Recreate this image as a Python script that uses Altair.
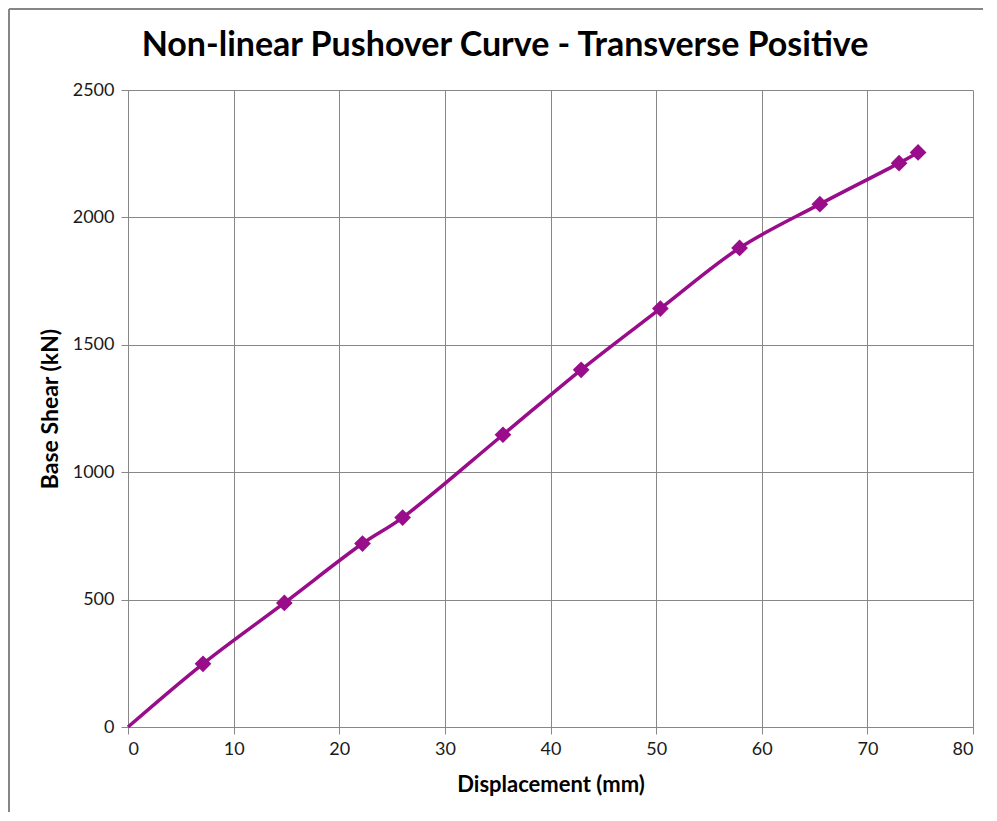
import altair as alt
import pandas as pd

disp = [0, 7.1, 14.8, 22.2, 26.0, 35.5, 42.9, 50.4, 57.9, 65.5, 73.0, 74.8]
shear = [0, 248, 487, 720, 822, 1147, 1402, 1642, 1880, 2052, 2213, 2255]
has_marker = [False] + [True] * (len(disp) - 1)
title_text = ["Non-linear Pushover Curve - Transverse Positive"]

df = pd.DataFrame({"disp": disp, "shear": shear, "marker": has_marker})
tdf = pd.DataFrame({"t": title_text})

PURPLE = "#990d8a"
FONT = "Lato"

x = alt.X("disp:Q", title="Displacement (mm)",
          scale=alt.Scale(domain=[0, 80], nice=False),
          axis=alt.Axis(values=list(range(0, 81, 10)), format="d", labelFontSize=18, titleFontSize=22,
                        titleFontWeight="bold", labelPadding=6, titlePadding=16))
y = alt.Y("shear:Q", title="Base Shear (kN)",
          scale=alt.Scale(domain=[0, 2500], nice=False),
          axis=alt.Axis(values=list(range(0, 2501, 500)), format="d", labelFontSize=18, titleFontSize=23,
                        titleFontWeight="bold", labelPadding=7, titlePadding=10))

line = alt.Chart(df).mark_line(color=PURPLE, strokeWidth=3.5, interpolate="catmull-rom").encode(x=x, y=y)
pts = alt.Chart(df).transform_filter("datum.marker").mark_point(
    shape="diamond", filled=True, size=280, color=PURPLE, opacity=1).encode(x=x, y=y)

border_left = alt.Chart(df).mark_rule(color="#868686", strokeWidth=2).encode(
    x=alt.value(-119), y=alt.value(-81), y2=alt.value(740))
border_top = alt.Chart(df).mark_rule(color="#868686", strokeWidth=2).encode(
    x=alt.value(-119), x2=alt.value(880), y=alt.value(-81))

title = alt.Chart(tdf).mark_text(
    font=FONT, fontSize=34, fontWeight="bold", color="#000000",
    align="center", baseline="alphabetic").encode(
    x=alt.value(377), y=alt.value(-34), text="t:N")

chart = alt.layer(border_left, border_top, line, pts, title).properties(
    width=845, height=637,
    autosize=alt.AutoSizeParams(type="none"),
    padding={"left": 120, "top": 82, "right": 10, "bottom": 85},
).configure_axis(
    labelFont=FONT, titleFont=FONT, labelColor="#1a1a1a", titleColor="#000000",
    gridColor="#878787", gridWidth=1, domainColor="#878787", tickColor="#878787",
    tickSize=7, grid=True,
).configure_view(stroke=None)

chart.save("out.html", embed_options={"renderer": "svg", "actions": False})
